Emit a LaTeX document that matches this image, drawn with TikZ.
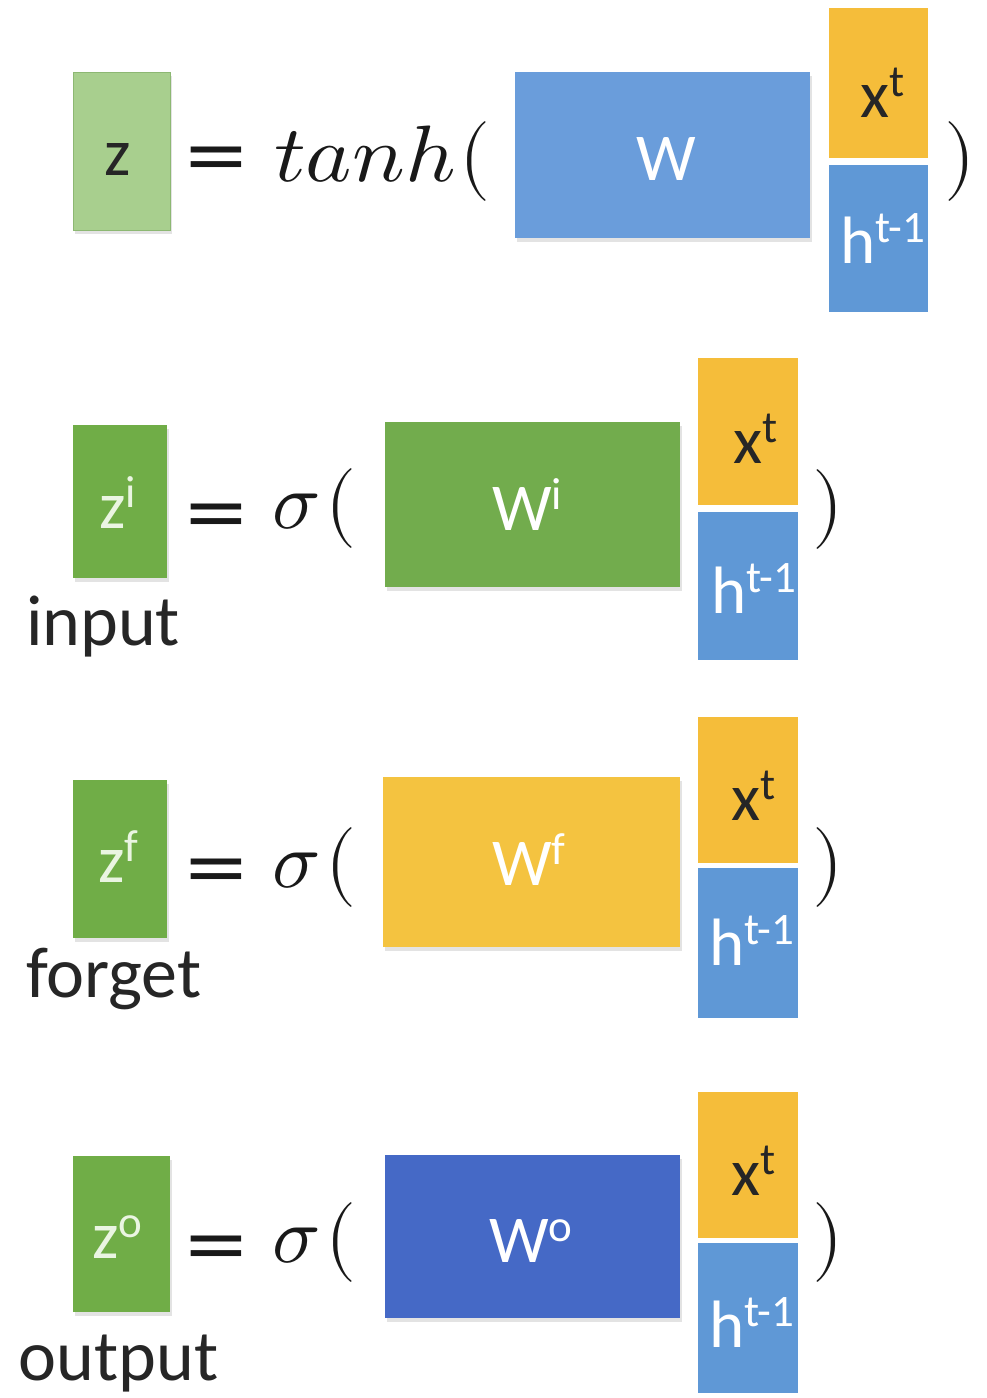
\documentclass[tikz,border=0pt]{standalone}
\usepackage{fontspec}
\usepackage{unicode-math}
\setmainfont{Carlito}
\setmathfont{Latin Modern Math}
\usetikzlibrary{shadows}
\definecolor{zlight}{HTML}{A8CF8E}
\definecolor{zlightdraw}{HTML}{8DB873}
\definecolor{zgreen}{HTML}{70AD47}
\definecolor{wblue}{HTML}{6A9DDB}
\definecolor{wgreen}{HTML}{72AC4D}
\definecolor{wyellow}{HTML}{F4C340}
\definecolor{wdark}{HTML}{4569C6}
\definecolor{xorange}{HTML}{F5BD3A}
\definecolor{hblue}{HTML}{5F98D6}
\definecolor{ztext}{HTML}{EAF5E2}
\newcommand\supx[1]{\raisebox{21pt}{\fontsize{45}{45}\selectfont #1}}
\newcommand\eqsign{\scalebox{1.35}[1]{=}}
\begin{document}
\begin{tikzpicture}[x=1pt,y=-1pt,
  box/.style={draw=none, inner sep=0pt, outer sep=0pt},
  shade/.style={drop shadow={shadow xshift=2pt, shadow yshift=-4pt, opacity=0.22}},
  zb/.style={box, shade, fill=zgreen, minimum width=95pt},
  wb/.style={box, shade, minimum width=295pt},
  xb/.style={box, fill=xorange, minimum width=100pt},
  hb/.style={box, fill=hblue, minimum width=100pt},
  txt/.style={inner sep=0pt, outer sep=0pt, font=\fontsize{67}{67}\selectfont},
  lbl/.style={inner sep=0pt, outer sep=0pt, anchor=base west, font=\fontsize{72}{72}\selectfont, text=black!85},
  mth/.style={inner sep=0pt, outer sep=0pt, font=\fontsize{80}{80}\selectfont, text=black!90},
  eqs/.style={inner sep=0pt, outer sep=0pt, anchor=center, font=\fontsize{92}{92}\selectfont, text=black!90}]
\useasboundingbox[fill=white] (0,0) rectangle (987,1398);

% ---------- Row 1 ----------
\node[box, shade, fill=zlight, draw=zlightdraw, line width=1pt, minimum width=97pt, minimum height=158pt] (z1) at (121.5,151) {};
\node[wb, fill=wblue, minimum height=166pt] (W1) at (662.5,155) {};
\node[xb, minimum width=99pt, minimum height=150pt] (x1) at (878.5,83) {};
\node[hb, minimum width=99pt, minimum height=147pt] (h1) at (878.5,238.5) {};
\node[txt, anchor=base, text=black!85] (z1t) at (118,175) {z};
\node[txt, anchor=base, text=white] (W1t) at (666,180) {W};
\node[txt, anchor=base west, text=black!85] (x1t) at (860,117) {x\supx{t}};
\begin{scope}
\clip (829,165) rectangle (928,312);
\node[txt, anchor=base west, text=white] (h1t) at (840,263) {h\supx{t-1}};
\end{scope}
\node[eqs] (eq1) at (216,167) {\eqsign};
\node[mth, anchor=base west] (f1) at (274,181) {\scalebox{1.1}[1]{$tanh$}\hspace{4pt}$($};
\node[mth, anchor=base] (r1) at (960,181) {$)$};

% ---------- Row 2 ----------
\node[zb, minimum width=94pt, minimum height=153pt] (z2) at (120,501.5) {};
\node[wb, fill=wgreen, minimum height=165pt] (W2) at (532.5,504.5) {};
\node[xb, minimum height=147pt] (x2) at (748,431.5) {};
\node[hb, minimum height=148pt] (h2) at (748,586) {};
\node[txt, anchor=base west, text=ztext] (z2t) at (99,528) {z\supx{i}};
\node[txt, anchor=base west, text=white] (W2t) at (492,530) {W\supx{i}};
\node[txt, anchor=base west, text=black!85] (x2t) at (733,463) {x\supx{t}};
\begin{scope}
\clip (698,512) rectangle (798,660);
\node[txt, anchor=base west, text=white] (h2t) at (711,613) {h\supx{t-1}};
\end{scope}
\node[eqs] (eq2) at (216,524) {\eqsign};
\node[mth, anchor=base west] (f2) at (272,528) {$\sigma$\hspace{6pt}$($};
\node[mth, anchor=base] (r2) at (828,529) {$)$};
\node[lbl] (l2) at (26,645) {input};

% ---------- Row 3 ----------
\node[zb, minimum width=94pt, minimum height=158pt] (z3) at (120,859) {};
\node[wb, fill=wyellow, minimum width=297pt, minimum height=170pt] (W3) at (531.5,862) {};
\node[xb, minimum height=146pt] (x3) at (748,790) {};
\node[hb, minimum height=150pt] (h3) at (748,943) {};
\node[txt, anchor=base west, text=ztext] (z3t) at (98,882) {z\supx{f}};
\node[txt, anchor=base west, text=white] (W3t) at (492,885) {W\supx{f}};
\node[txt, anchor=base west, text=black!85] (x3t) at (731,820) {x\supx{t}};
\begin{scope}
\clip (698,868) rectangle (798,1018);
\node[txt, anchor=base west, text=white] (h3t) at (709,965) {h\supx{t-1}};
\end{scope}
\node[eqs] (eq3) at (216,879) {\eqsign};
\node[mth, anchor=base west] (f3) at (272,887) {$\sigma$\hspace{6pt}$($};
\node[mth, anchor=base] (r3) at (828,887) {$)$};
\node[lbl] (l3) at (26,997) {forget};

% ---------- Row 4 ----------
\node[zb, minimum width=97pt, minimum height=156pt] (z4) at (121.5,1234) {};
\node[wb, fill=wdark, minimum height=163pt] (W4) at (532.5,1236.5) {};
\node[xb, minimum height=146pt] (x4) at (748,1165) {};
\node[hb, minimum height=150pt] (h4) at (748,1318) {};
\node[txt, anchor=base west, text=ztext] (z4t) at (92,1258) {z\supx{o}};
\node[txt, anchor=base west, text=white] (W4t) at (489,1262) {W\supx{o}};
\node[txt, anchor=base west, text=black!85] (x4t) at (731,1195) {x\supx{t}};
\begin{scope}
\clip (698,1243) rectangle (798,1393);
\node[txt, anchor=base west, text=white] (h4t) at (709,1347) {h\supx{t-1}};
\end{scope}
\node[eqs] (eq4) at (216,1256) {\eqsign};
\node[mth, anchor=base west] (f4) at (272,1262) {$\sigma$\hspace{6pt}$($};
\node[mth, anchor=base] (r4) at (828,1262) {$)$};
\node[lbl] (l4) at (19,1380) {output};
\end{tikzpicture}
\end{document}
